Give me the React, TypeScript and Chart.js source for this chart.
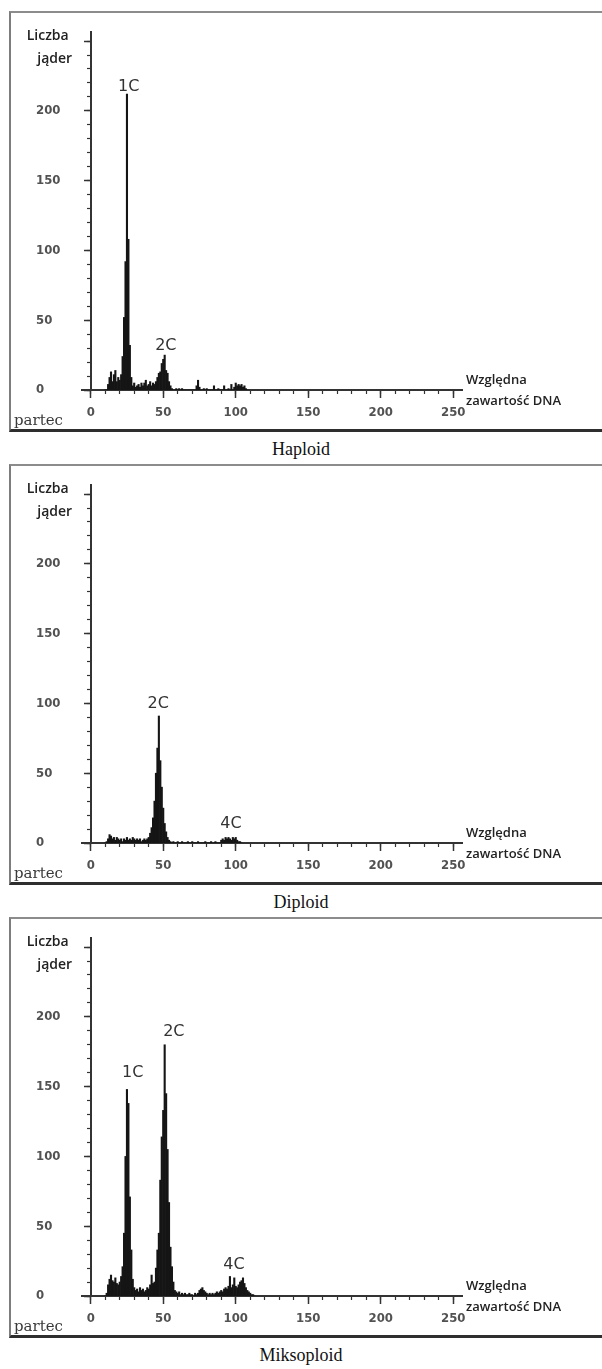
import React, { useEffect, useRef } from "react";
import { Chart, registerables } from "chart.js";

Chart.register(...registerables);

// ---- data (channel counts, starting at channel 10) ----
const FIRST_CHANNEL = 10;

const HAPLOID_COUNTS = [
  0, 0, 4, 9, 13, 6, 11, 14, 6, 9, // 10-19
  7, 11, 24, 52, 92, 212, 108, 32, 9, 3, // 20-29
  5, 2, 3, 4, 2, 5, 3, 5, 7, 3, // 30-39
  4, 6, 3, 5, 4, 6, 9, 12, 13, 19, // 40-49
  22, 25, 14, 12, 6, 3, 1, 0, 0, 1, // 50-59
  0, 1, 0, 1, 0, 0, 0, 0, 0, 0, // 60-69
  0, 0, 0, 3, 7, 2, 0, 0, 1, 0, // 70-79
  1, 0, 0, 0, 0, 3, 0, 0, 1, 0, // 80-89
  0, 0, 3, 0, 0, 1, 0, 4, 0, 2, // 90-99
  5, 3, 4, 3, 4, 2, 3, 1, 0, // 100-108
];

const DIPLOID_COUNTS = [
  0, 1, 3, 6, 5, 3, 4, 2, 4, 3, // 10-19
  2, 3, 1, 3, 2, 4, 2, 3, 2, 4, // 20-29
  3, 2, 3, 2, 3, 1, 2, 3, 2, 3, // 30-39
  4, 7, 11, 18, 30, 50, 68, 91, 59, 40, // 40-49
  25, 14, 8, 4, 2, 1, 0, 1, 0, 0, // 50-59
  1, 0, 0, 1, 0, 0, 0, 1, 0, 0, // 60-69
  1, 0, 0, 0, 1, 0, 0, 0, 0, 1, // 70-79
  0, 0, 0, 1, 0, 0, 1, 0, 0, 0, // 80-89
  2, 3, 2, 4, 3, 4, 3, 2, 4, 3, // 90-99
  4, 2, 1, 1, 0, // 100-104
];

const MIXOPLOID_COUNTS = [
  0, 2, 8, 12, 15, 11, 10, 13, 9, 8, // 10-19
  10, 14, 21, 45, 100, 148, 138, 71, 33, 12, // 20-29
  6, 4, 5, 3, 6, 4, 5, 3, 4, 6, // 30-39
  5, 8, 15, 9, 10, 20, 33, 45, 83, 114, // 40-49
  133, 180, 145, 105, 67, 35, 21, 10, 4, 3, // 50-59
  2, 3, 1, 2, 1, 2, 1, 1, 2, 1, // 60-69
  1, 0, 2, 1, 2, 4, 5, 6, 4, 3, // 70-79
  2, 1, 2, 1, 2, 1, 2, 3, 2, 3, // 80-89
  4, 3, 5, 6, 5, 7, 14, 6, 8, 13, // 90-99
  7, 6, 8, 10, 11, 13, 9, 6, 4, 3, // 100-109
  2, 1, 1, 0, // 110-113
];

const HAPLOID_PEAK_TEXT = ["1C", "2C"];
const HAPLOID_PEAK_X = [26.2, 51.8];
const HAPLOID_PEAK_Y = [214, 28.6];

const DIPLOID_PEAK_TEXT = ["2C", "4C"];
const DIPLOID_PEAK_X = [46.5, 96.7];
const DIPLOID_PEAK_Y = [97, 10.4];

const MIXOPLOID_PEAK_TEXT = ["1C", "2C", "4C"];
const MIXOPLOID_PEAK_X = [29, 57.3, 98.8];
const MIXOPLOID_PEAK_Y = [157, 186, 19.7];

const CAPTIONS = ["Haploid", "Diploid", "Miksoploid"];
const Y_TITLE_LINES = ["Liczba", "jąder"];
const X_TITLE_LINES = ["Względna", "zawartość DNA"];
const BRAND = "partec";

const X_MIN = -6;
const X_MAX = 256;
const Y_MAX = 256.5;
const Y_LAST_LABEL = 200;
const MAJOR_STEP = 50;
const MINOR_STEP = 10;

// ---- layout ----
const PANEL_TOPS = [11, 464, 917];
const TICK_FONT = {
  family: "'DejaVu Sans Condensed', 'DejaVu Sans', sans-serif",
  weight: "bold" as const,
  size: 13,
};
const TICK_COLOR = "#525252";
const AXIS_COLOR = "#333";

type PanelProps = {
  counts: number[];
  peakText: string[];
  peakX: number[];
  peakY: number[];
  top: number;
  caption: string;
};

function Panel({ counts, peakText, peakX, peakY, top, caption }: PanelProps) {
  const ref = useRef<HTMLCanvasElement | null>(null);

  useEffect(() => {
    if (!ref.current) return;
    const points = counts.map((v, i) => ({ x: FIRST_CHANNEL + i, y: v }));

    const labelPlugin = {
      id: "panelText",
      afterDraw(chart: any) {
        const ctx = chart.ctx as CanvasRenderingContext2D;
        const xs = chart.scales.x;
        const ys = chart.scales.y;
        const area = chart.chartArea;
        const ax = xs.getPixelForValue(0);
        const ay = ys.getPixelForValue(0);
        ctx.save();
        // y axis title
        ctx.fillStyle = "#222";
        ctx.font = "600 14px 'Open Sans', 'DejaVu Sans', sans-serif";
        ctx.textAlign = "center";
        ctx.textBaseline = "middle";
        ctx.fillText(Y_TITLE_LINES[0], ax - 43, area.top + 4);
        ctx.fillText(Y_TITLE_LINES[1], ax - 36, area.top + 27);
        // x axis title
        ctx.font = "600 13px 'Open Sans', 'DejaVu Sans', sans-serif";
        ctx.textAlign = "left";
        ctx.fillText(X_TITLE_LINES[0], area.right + 4, ay - 10);
        ctx.fillText(X_TITLE_LINES[1], area.right + 4, ay + 11);
        // brand
        ctx.fillStyle = "#3a3a3a";
        ctx.font = "15px 'DejaVu Serif', serif";
        ctx.fillText(BRAND, 3, ay + 31);
        // peak labels
        ctx.fillStyle = "#333";
        ctx.font = "16px 'DejaVu Sans', sans-serif";
        ctx.textAlign = "center";
        ctx.textBaseline = "alphabetic";
        peakText.forEach((t, i) => {
          ctx.fillText(t, xs.getPixelForValue(peakX[i]), ys.getPixelForValue(peakY[i]));
        });
        ctx.restore();
      },
    };

    const xLabelCb = (v: number | string) => {
      const n = Number(v);
      return n % MAJOR_STEP === 0 ? String(n) : null;
    };
    const yLabelCb = (v: number | string) => {
      const n = Number(v);
      return n % MAJOR_STEP === 0 && n <= Y_LAST_LABEL ? String(n) : null;
    };

    const chart = new Chart(ref.current, {
      type: "bar",
      data: {
        datasets: [
          {
            data: points as any,
            backgroundColor: "#151515",
            borderWidth: 0,
            barPercentage: 1,
            categoryPercentage: 1,
            grouped: false,
            xAxisID: "x",
            yAxisID: "y",
          } as any,
        ],
      },
      options: {
        animation: false,
        responsive: false,
        maintainAspectRatio: false,
        events: [],
        layout: { padding: { left: 25, top: 19, right: 140, bottom: 39 } },
        plugins: { legend: { display: false }, tooltip: { enabled: false } },
        scales: {
          x: {
            type: "linear",
            axis: "x",
            position: { y: 0 } as any,
            min: X_MIN,
            max: X_MAX,
            offset: false,
            grid: {
              offset: false,
              drawOnChartArea: false,
              drawTicks: true,
              tickLength: 7,
              tickWidth: 1.5,
              tickColor: AXIS_COLOR,
            },
            border: { display: true, color: AXIS_COLOR, width: 2 },
            ticks: {
              stepSize: MAJOR_STEP,
              includeBounds: false,
              autoSkip: false,
              maxRotation: 0,
              padding: 8,
              font: TICK_FONT,
              color: TICK_COLOR,
              callback: xLabelCb,
            },
          } as any,
          xmin: {
            type: "linear",
            axis: "x",
            position: { y: 0 } as any,
            min: X_MIN,
            max: X_MAX,
            offset: false,
            grid: {
              offset: false,
              drawOnChartArea: false,
              drawTicks: true,
              tickLength: 4,
              tickWidth: 1.2,
              tickColor: AXIS_COLOR,
            },
            border: { display: false },
            ticks: { stepSize: MINOR_STEP, includeBounds: false, display: false },
          } as any,
          y: {
            type: "linear",
            axis: "y",
            position: "left",
            min: 0,
            max: Y_MAX,
            grid: { display: false, drawTicks: false },
            border: { display: false },
            ticks: {
              stepSize: MAJOR_STEP,
              includeBounds: false,
              autoSkip: false,
              crossAlign: "far",
              padding: 22,
              font: TICK_FONT,
              color: TICK_COLOR,
              callback: yLabelCb,
            },
            afterFit: (s: any) => {
              s.width = 46;
              s.paddingTop = 0;
              s.paddingBottom = 0;
            },
          } as any,
          ymaj: {
            type: "linear",
            axis: "y",
            position: { x: 0 } as any,
            min: 0,
            max: Y_MAX,
            grid: {
              drawOnChartArea: false,
              drawTicks: true,
              tickLength: 6,
              tickWidth: 1.5,
              tickColor: AXIS_COLOR,
            },
            border: { display: true, color: AXIS_COLOR, width: 2 },
            ticks: { stepSize: MAJOR_STEP, includeBounds: false, display: false },
          } as any,
          ymin: {
            type: "linear",
            axis: "y",
            position: { x: 0 } as any,
            min: 0,
            max: Y_MAX,
            grid: {
              drawOnChartArea: false,
              drawTicks: true,
              tickLength: 4,
              tickWidth: 1.2,
              tickColor: AXIS_COLOR,
            },
            border: { display: false },
            ticks: { stepSize: MINOR_STEP, includeBounds: false, display: false },
          } as any,
        },
      },
      plugins: [labelPlugin],
    });
    return () => chart.destroy();
  }, [counts, peakText, peakX, peakY]);

  return (
    <>
      <div
        style={{
          position: "absolute",
          left: 9,
          top,
          width: 600,
          height: 421,
          boxSizing: "border-box",
          borderTop: "2px solid #8c8c8c",
          borderLeft: "2px solid #7d7d7d",
          borderRight: "2px solid #7d7d7d",
          borderBottom: "3px solid #2e2e2e",
          background: "#fff",
        }}
      />
      <canvas
        ref={ref}
        width={591}
        height={416}
        style={{ position: "absolute", left: 11, top: top + 2, width: 591, height: 416 }}
      />
      <div
        style={{
          position: "absolute",
          left: 0,
          top: top + 427,
          width: 602,
          height: 22,
          lineHeight: "22px",
          textAlign: "center",
          fontFamily: "'Liberation Serif', 'Times New Roman', serif",
          fontSize: 18,
          color: "#111",
        }}
      >
        {caption}
      </div>
    </>
  );
}

export default function App() {
  return (
    <div
      style={{
        position: "absolute",
        left: 0,
        top: 0,
        width: 602,
        height: 1369,
        overflow: "hidden",
        background: "#fff",
      }}
    >
      <Panel
        counts={HAPLOID_COUNTS}
        peakText={HAPLOID_PEAK_TEXT}
        peakX={HAPLOID_PEAK_X}
        peakY={HAPLOID_PEAK_Y}
        top={PANEL_TOPS[0]}
        caption={CAPTIONS[0]}
      />
      <Panel
        counts={DIPLOID_COUNTS}
        peakText={DIPLOID_PEAK_TEXT}
        peakX={DIPLOID_PEAK_X}
        peakY={DIPLOID_PEAK_Y}
        top={PANEL_TOPS[1]}
        caption={CAPTIONS[1]}
      />
      <Panel
        counts={MIXOPLOID_COUNTS}
        peakText={MIXOPLOID_PEAK_TEXT}
        peakX={MIXOPLOID_PEAK_X}
        peakY={MIXOPLOID_PEAK_Y}
        top={PANEL_TOPS[2]}
        caption={CAPTIONS[2]}
      />
    </div>
  );
}
